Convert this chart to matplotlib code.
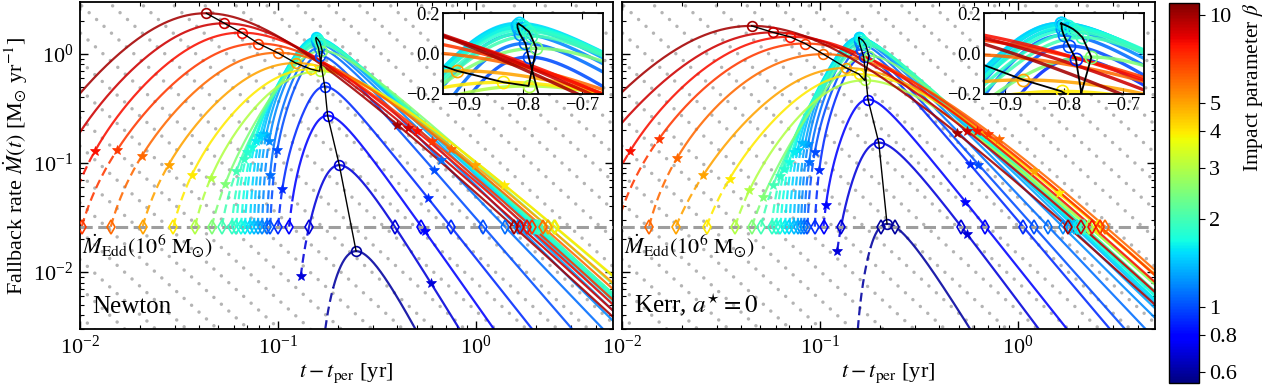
import numpy as np
import matplotlib
matplotlib.use("Agg")
import matplotlib.pyplot as plt
from matplotlib.colors import LogNorm
from matplotlib import cm

plt.rcParams["font.family"] = ["Liberation Serif", "DejaVu Serif"]
plt.rcParams["mathtext.fontset"] = "stix"
plt.rcParams["font.size"] = 16

EDD = 0.026

betas = [0.6, 0.7, 0.8, 0.9, 1.0, 1.1, 1.2, 1.3, 1.4, 1.5, 1.6, 1.7, 1.8, 1.9,
         2.0, 2.5, 3.0, 4.0, 5.0, 6.0, 7.0, 8.0, 9.0, 10.0]

# ---------------- Newton panel ----------------
tpeak_N = [0.228, 0.193, 0.174, 0.170, 0.160, 0.158, 0.155, 0.154, 0.154, 0.155, 0.156, 0.158,
           0.160, 0.162, 0.163, 0.165, 0.156, 0.141, 0.117, 0.0955, 0.0770, 0.0630, 0.0520, 0.0425]
Mpeak_N = [0.0146, 0.093, 0.27, 0.50, 0.96, 1.12, 1.25, 1.34, 1.39, 1.41, 1.39, 1.36,
           1.32, 1.28, 1.22, 1.06, 0.69, 0.72, 0.82, 1.02, 1.24, 1.56, 1.90, 2.35]
# first drawn point on the rise (time, rate)
t_first_N = [0.173, 0.130, 0.1137, 0.100, 0.0912, 0.0877, 0.083, 0.079, 0.0755, 0.072, 0.068, 0.065,
             0.0615, 0.0583, 0.052, 0.0462, 0.0381, 0.0296, 0.0207, 0.0143, 0.0102, 0.0085, 0.0062, 0.0042]
M_first_N = [0.003, 0.0091] + [EDD] * 22
# end of dashed part of the rise
t_solid_N = [0.19, 0.142, 0.118, 0.105, 0.099, 0.091, 0.090, 0.087, 0.084, 0.081, 0.077, 0.074,
             0.070, 0.067, 0.0615, 0.054, 0.0457, 0.0366, 0.028, 0.0205, 0.0154, 0.0119, 0.0090, 0.0060]
star_rise_N = [np.nan, 0.130, np.nan, 0.105, 0.099, 0.091, 0.090, 0.087, 0.084, 0.081, 0.077, 0.074,
               0.070, 0.067, 0.0615, 0.054, 0.0457, 0.0366, 0.028, 0.0205, 0.0154, 0.0119, np.nan, np.nan]
star_fall_N = [np.nan, 0.59, 0.55, 0.57, 0.61, 0.66, np.nan, np.nan, np.nan, np.nan, np.nan, np.nan,
               np.nan, np.nan, np.nan, np.nan, np.nan, 1.38, 0.98, 0.75, 0.60, 0.50, 0.45, 0.40]
rise_N = [4.5, 5.0, 4.5, 4.2, 4.0, 3.8, 3.4, 3.3, 3.2, 3.2, 3.1, 3.1, 3.0, 3.0, 3.0, 2.8, 2.5, 2.3,
          2.2, 2.2, 2.2, 2.2, 2.2, 2.2]
fall_N = [3.6, 3.0, 2.6, 2.3, 2.1, 1.9, 1.8, 1.75, 1.72, 1.7, 1.7, 1.68, 1.68, 1.66, 1.66, 1.62,
          1.6, 1.6, 1.65, 1.7, 1.72, 1.72, 1.72, 1.72]
width_N = [0.12, 0.10, 0.09, 0.08, 0.08, 0.08, 0.08, 0.08, 0.08, 0.08, 0.08, 0.08, 0.09, 0.09,
           0.10, 0.15, 0.35, 0.40, 0.45, 0.5, 0.5, 0.5, 0.5, 0.5]
onset_N = [3.0, 3.0, 6, 6, 6, 6, 6, 6, 6, 6, 6, 6, 6, 6, 4, 2.5, 2, 1.8, 1.5, 1.5, 1.5, 1.5, 1.5, 1.5]

# ---------------- Kerr a*=0 panel ----------------
tpeak_K = [0.200, 0.187, 0.172, 0.164, 0.160, 0.157, 0.156, 0.156, 0.156, 0.156, 0.158, 0.161,
           0.164, 0.167, 0.170, 0.175, 0.163, 0.153, 0.131, 0.0990, 0.0810, 0.0680, 0.0570, 0.0447]
Mpeak_K = [0.0255, 0.15, 0.38, 0.94, 1.09, 1.23, 1.32, 1.38, 1.41, 1.41, 1.39, 1.36,
           1.32, 1.27, 1.20, 0.96, 0.57, 0.65, 0.74, 0.99, 1.24, 1.43, 1.57, 1.80]
t_first_K = [0.155, 0.122, 0.104, 0.094, 0.0863, 0.083, 0.080, 0.077, 0.0735, 0.070, 0.0665, 0.063,
             0.060, 0.0569, 0.0503, 0.0452, 0.0372, 0.0267, 0.0187, 0.0137, 0.0094, 0.0075, 0.0045, 0.0030]
M_first_K = [0.003, 0.0157] + [EDD] * 22
t_solid_K = [0.18, 0.128, 0.107, 0.099, 0.094, 0.088, 0.087, 0.084, 0.081, 0.077, 0.074, 0.070,
             0.066, 0.063, 0.058, 0.0516, 0.044, 0.0349, 0.0257, 0.019, 0.0154, 0.011, 0.007, 0.005]
star_rise_K = [np.nan, 0.122, 0.107, 0.099, 0.094, 0.088, 0.087, 0.084, 0.081, 0.077, 0.074, 0.070,
               0.066, 0.063, 0.058, 0.0516, 0.044, 0.0349, 0.0257, 0.019, 0.0154, 0.011, np.nan, np.nan]
star_fall_K = [np.nan, 0.55, 0.54, 0.57, 0.63, np.nan, np.nan, np.nan, np.nan, np.nan, np.nan, np.nan,
               np.nan, np.nan, np.nan, np.nan, np.nan, 1.6, 1.2, 0.80, 0.70, 0.62, 0.55, 0.49]
rise_K = [6.0, 4.5, 4.5, 4.2, 4.0, 3.8, 3.4, 3.3, 3.2, 3.2, 3.1, 3.1, 3.0, 3.0, 3.0, 2.8, 2.5, 2.4,
          2.4, 2.4, 2.4, 2.4, 2.4, 2.4]
fall_K = [3.0, 2.45, 2.3, 2.15, 2.05, 1.92, 1.8, 1.75, 1.72, 1.7, 1.7, 1.68, 1.68, 1.66, 1.66, 1.62,
          1.6, 1.65, 1.7, 1.75, 1.75, 1.75, 1.75, 1.75]
width_K = [0.08, 0.10, 0.09, 0.08, 0.08, 0.08, 0.08, 0.08, 0.08, 0.08, 0.08, 0.08, 0.09, 0.09,
           0.10, 0.15, 0.35, 0.45, 0.55, 0.7, 0.7, 0.7, 0.7, 0.7]
onset_K = [3.0, 3.0, 6, 6, 6, 6, 6, 6, 6, 6, 6, 6, 6, 6, 4, 2.5, 2, 1.8, 1.5, 1.5, 1.5, 1.5, 1.5, 1.5]


def rate(t, tp, Mp, a, b, d, m, t0):
    al = 0.5 * (a - b)
    be = 0.5 * (a + b)
    r = al / be
    xs = d * r / np.sqrt(1 - r * r)
    g = lambda u: al * u - be * (np.sqrt(u * u + d * d) - d)
    t = np.asarray(t, float)
    x = np.log10(t / tp)
    G = g(x + xs) - g(xs)
    y = np.clip(t0 / t, 0, 1)
    C = (1 - y ** m) / (1 - (t0 / tp) ** m)
    return Mp * 10 ** G * C


def solve_t0(ta, Ma, tp, Mp, a, b, d, m):
    f = lambda t0: rate(ta, tp, Mp, a, b, d, m, t0) - Ma
    if f(0.0) <= 0:
        return 0.0
    lo, hi = 0.0, ta * (1 - 1e-9)
    for _ in range(80):
        mid = 0.5 * (lo + hi)
        if f(mid) > 0:
            lo = mid
        else:
            hi = mid
    return 0.5 * (lo + hi)


cmap = plt.get_cmap("jet")
norm = LogNorm(vmin=0.55, vmax=11.0)

W, H = 1265, 386
fig = plt.figure(figsize=(W / 100, H / 100), dpi=100)


def fx(px):
    return px / W


def fy(py):
    return 1 - py / H


axL = fig.add_axes([fx(80), fy(329), fx(533), (329 - 2) / H])
axR = fig.add_axes([fx(622), fy(329), fx(533), (329 - 2) / H])
inL = fig.add_axes([fx(443), fy(94), fx(160), 81 / H])
inR = fig.add_axes([fx(984), fy(94), fx(160), 81 / H])
cax = fig.add_axes([fx(1169), fy(383), fx(30), 380 / H])

panels = [
    (axL, inL, dict(tp=tpeak_N, Mp=Mpeak_N, ta=t_first_N, Ma=M_first_N, ts=t_solid_N,
                    sr=star_rise_N, sf=star_fall_N, a=rise_N, b=fall_N, d=width_N, m=onset_N), "Newton"),
    (axR, inR, dict(tp=tpeak_K, Mp=Mpeak_K, ta=t_first_K, Ma=M_first_K, ts=t_solid_K,
                    sr=star_rise_K, sf=star_fall_K, a=rise_K, b=fall_K, d=width_K, m=onset_K),
     r"Kerr, $a^{\star} = 0$"),
]

for ax, axin, P, label in panels:
    # background t^{-5/3} guide lines
    tg = np.array([0.005, 10.0])
    for lk in np.arange(-6.0, 1.5, 0.26):
        ax.plot(tg, 10 ** lk * tg ** (-5.0 / 3.0), color="#b4b4b4", lw=2.5,
                ls=(0, (0.01, 2.9)), dash_capstyle="round", zorder=0.5)

    n = len(betas)
    peaks_t, peaks_M = [0.0] * n, [0.0] * n
    for i in range(n):
        beta = betas[i]
        col = cmap(norm(beta))
        zo = 2 + 0.01 * i
        pars = (P["tp"][i], P["Mp"][i], P["a"][i], P["b"][i], P["d"][i], P["m"][i])
        t0 = solve_t0(P["ta"][i], P["Ma"][i], *pars)
        ta, ts = P["ta"][i], P["ts"][i]
        td = np.geomspace(ta, max(ts, ta * 1.0001), 150)
        tsl = np.geomspace(max(ts, ta), 5.5, 2000)
        Md = rate(td, *pars, t0)
        Ms = rate(tsl, *pars, t0)
        tall = np.concatenate([td, tsl])
        Mall = np.concatenate([Md, Ms])
        k = np.argmax(Mall)
        peaks_t[i] = tall[k]
        peaks_M[i] = Mall[k]
        # Eddington crossings
        dt = []
        if P["Ma"][i] == EDD:
            dt.append(ta)
        s = np.sign(Mall - EDD)
        idx = np.where(s[1:] * s[:-1] < 0)[0]
        for j in idx:
            if j < 2 and P["Ma"][i] == EDD:
                continue
            l0, l1 = np.log10(Mall[j] / EDD), np.log10(Mall[j + 1] / EDD)
            lt = np.log10(tall[j]) + (np.log10(tall[j + 1]) - np.log10(tall[j])) * l0 / (l0 - l1)
            dt.append(10 ** lt)
        stars = [v for v in (P["sr"][i], P["sf"][i]) if np.isfinite(v)]
        for A, lw, tr, msc in ((ax, 1.6, False, 1.0), (axin, 2.4, True, 1.25)):
            T = (lambda v: np.log10(v)) if tr else (lambda v: v)
            A.plot(T(td), T(Md), ls=(0, (4, 2.2)), color=col, lw=lw, alpha=0.88, zorder=zo)
            A.plot(T(tsl), T(Ms), "-", color=col, lw=lw, alpha=0.88, zorder=zo)
            A.plot(T(np.array(dt)), T(np.full(len(dt), EDD)), "d", mfc="none", mec=col,
                   ms=7 * msc, mew=1.2, zorder=4)
            if stars:
                st = np.array(stars)
                A.plot(T(st), T(rate(st, *pars, t0)), "*", color=col, ms=7.5 * msc,
                       mew=0.5, zorder=4)
            A.plot(T(tall[k]), T(Mall[k]), "o", mfc="none", mec=col, ms=7 * msc, mew=1.2, zorder=4)

    ax.plot(peaks_t, peaks_M, "k-", lw=1.0, zorder=5)
    axin.plot(np.log10(peaks_t), np.log10(peaks_M), "k-", lw=1.3, zorder=5)

    ax.axhline(EDD, color="#9e9e9e", lw=2.2, ls=(0, (4, 1.8)), zorder=3)
    ax.text(0.004, 0.0232, r"$\dot{M}_{\mathrm{Edd}}(10^{6}\ \mathrm{M}_{\odot})$",
            transform=ax.get_yaxis_transform(), ha="left", va="top", fontsize=16, zorder=6)
    ax.text(0.022, 0.035, label, transform=ax.transAxes, ha="left", va="bottom", fontsize=18, zorder=6)

    ax.set_xscale("log")
    ax.set_yscale("log")
    ax.set_xlim(0.01, 4.9)
    ax.set_ylim(0.003, 2.98)
    ax.tick_params(which="both", direction="in", top=True, right=True, labelsize=16)
    ax.tick_params(which="major", length=6, width=1.0, pad=5)
    ax.tick_params(which="minor", length=3, width=0.8)
    ax.set_xlabel(r"$t - t_{\mathrm{per}}$ [yr]", fontsize=16, labelpad=2)
    for sp in ax.spines.values():
        sp.set_linewidth(1.3)

    axin.set_xlim(-0.935, -0.665)
    axin.set_ylim(-0.2, 0.2)
    axin.set_xticks([-0.9, -0.8, -0.7])
    axin.set_xticklabels(["\u22120.9", "\u22120.8", "\u22120.7"])
    axin.set_yticks([-0.2, 0.0, 0.2])
    axin.set_yticklabels(["\u22120.2", "0.0", "0.2"])
    axin.tick_params(direction="in", top=True, right=True, labelsize=13.5, length=4, pad=2)
    axin.set_facecolor("white")
    for sp in axin.spines.values():
        sp.set_linewidth(1.3)
    axin.set_zorder(10)

axL.set_ylabel(r"Fallback rate $\dot{M}(t)$ [M$_{\odot}$ yr$^{-1}$]", fontsize=16, labelpad=2)
axR.tick_params(labelleft=False)

sm = cm.ScalarMappable(norm=norm, cmap=cmap)
cb = fig.colorbar(sm, cax=cax)
cb.set_ticks([0.6, 0.8, 1, 2, 3, 4, 5, 10])
cb.set_ticklabels(["0.6", "0.8", "1", "2", "3", "4", "5", "10"])
cb.ax.minorticks_off()
cb.ax.tick_params(labelsize=16, length=4)
cb.ax.set_ylabel(r"Impact parameter $\beta$", fontsize=15.5, labelpad=3, loc="top")
cb.outline.set_linewidth(1.0)

fig.savefig("out.png", dpi=100)
